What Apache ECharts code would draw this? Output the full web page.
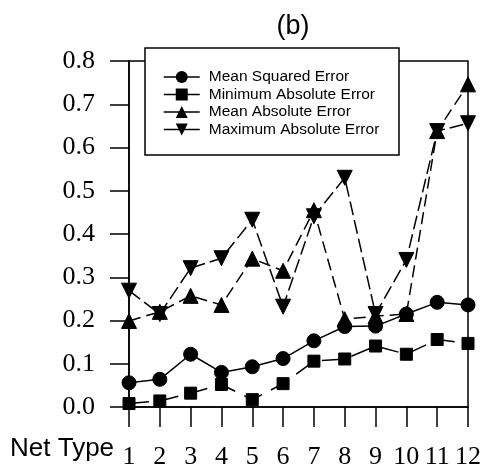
<!DOCTYPE html>
<html><head><meta charset="utf-8">
<script src="https://cdn.jsdelivr.net/npm/echarts@6/dist/echarts.min.js"></script>
<style>html,body{margin:0;padding:0;background:#fff}#c{width:486px;height:471px}</style>
</head><body><div id="c"></div>
<script>
var netTypes = ['1','2','3','4','5','6','7','8','9','10','11','12'];
var yTicks = [0.0,0.1,0.2,0.3,0.4,0.5,0.6,0.7,0.8];
var mseVals   = [0.056,0.064,0.122,0.080,0.093,0.112,0.153,0.186,0.187,0.215,0.242,0.236];
var minAbsVals = [0.008,0.014,0.032,0.052,0.017,0.054,0.106,0.111,0.141,0.122,0.156,0.147];
var meanAbsVals = [0.199,0.220,0.257,0.236,0.343,0.315,0.455,0.203,0.210,0.215,0.638,0.746];
var maxAbsVals = [0.269,0.215,0.321,0.344,0.433,0.232,0.441,0.530,0.215,0.340,0.638,0.656];
var seriesNames = ['Mean Squared Error','Minimum Absolute Error','Mean Absolute Error','Maximum Absolute Error'];

var chart = echarts.init(document.getElementById('c'));
var serif = 'Liberation Serif, Times New Roman, serif';
var sans = 'Liberation Sans, Arial, sans-serif';
function mk(name, data, symbol, size, dash, rot){
  return {name:name, type:'line', data:data, symbol:symbol, symbolSize:size, symbolRotate:rot||0,
    showAllSymbol:true, animation:false,
    lineStyle:{color:'#000', width:1.5, type:dash},
    itemStyle:{color:'#000', borderColor:'#000'}};
}
chart.setOption({
  animation:false,
  backgroundColor:'#fff',
  grid:{left:129, right:18, top:61, bottom:64, show:true, borderColor:'#000', borderWidth:1.5, backgroundColor:'transparent'},
  xAxis:{type:'category', data:netTypes, boundaryGap:false,
    axisLine:{show:true, lineStyle:{color:'#000', width:1.5}},
    axisTick:{show:true, length:20, alignWithLabel:true, lineStyle:{color:'#000', width:1.5}},
    axisLabel:{color:'#000', fontFamily:serif, fontSize:26, margin:37, interval:0},
    splitLine:{show:false}},
  yAxis:{type:'value', min:0, max:0.8, interval:0.1,
    axisLine:{show:true, lineStyle:{color:'#000', width:1.5}},
    axisTick:{show:true, length:19, lineStyle:{color:'#000', width:1.5}},
    axisLabel:{color:'#000', fontFamily:serif, fontSize:26, margin:34,
      formatter:function(v){return v.toFixed(1);}},
    splitLine:{show:false}},
  legend:{orient:'vertical', left:163, top:69, padding:0, itemGap:1.5, itemWidth:36, itemHeight:15, z:100,
    data:seriesNames,
    lineStyle:{type:'solid', width:1.5, color:'#000'},
    textStyle:{color:'#000', fontFamily:sans, fontSize:15.5, lineHeight:15, padding:[0,0,0,4]}},
  graphic:[
    {type:'rect', z:50, shape:{x:145, y:48, width:254, height:107}, style:{fill:'#fff', stroke:'#000', lineWidth:1.5}},
    {type:'text', z:50, style:{text:'(b)', x:293, y:27, align:'center', verticalAlign:'middle', font:'27px '+sans, fill:'#000'}},
    {type:'text', z:50, style:{text:'Net Type', x:10, y:449, align:'left', verticalAlign:'middle', font:'26px '+sans, fill:'#000'}}
  ],
  series:[
    mk(seriesNames[0], mseVals, 'circle', 14, 'solid'),
    mk(seriesNames[1], minAbsVals, 'rect', 12, [20,10]),
    mk(seriesNames[2], meanAbsVals, 'triangle', 15, [12,6]),
    mk(seriesNames[3], maxAbsVals, 'triangle', 15, [14,5], 180)
  ]
});
</script></body></html>
